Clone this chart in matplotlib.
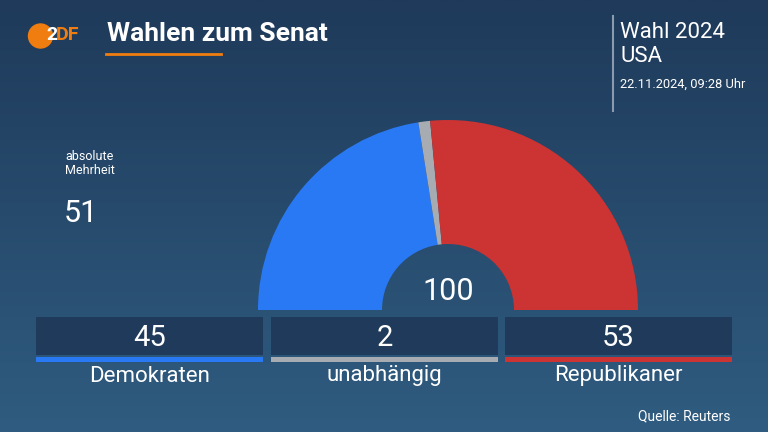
import matplotlib.pyplot as plt
import numpy as np
from matplotlib.patches import Circle, Rectangle

# Data
parties = ['Demokraten', 'unabhängig', 'Republikaner']
seats = [45, 2, 53]
colors = ['#2979f5', '#a7abb2', '#cc3333']
total_seats = 100
majority = 51

plt.rcParams['font.family'] = ['Roboto', 'DejaVu Sans']

fig = plt.figure(figsize=(7.68, 4.32), dpi=100)
ax = fig.add_axes([0, 0, 1, 1])

# background gradient (dark navy top -> lighter blue bottom)
grad = np.linspace(0, 1, 256).reshape(-1, 1)
top = np.array([31, 58, 90]) / 255
bottom = np.array([47, 92, 128]) / 255
img = top + (bottom - top) * grad[:, :, None]
ax.imshow(img, extent=[0, 768, 0, 432], origin='upper', aspect='auto', zorder=0)

# half donut: hidden lower half
cx, cy, r = 448, 122, 190
ax.pie(seats + [total_seats], colors=colors + ['none'], startangle=180,
       counterclock=False, center=(cx, cy), radius=r,
       wedgeprops=dict(width=r - 66, linewidth=0))
ax.set_xlim(0, 768)
ax.set_ylim(0, 432)
ax.set_aspect('auto')
ax.axis('off')

ax.text(cx, 432 - 292, str(total_seats), color='white', fontsize=22,
        ha='center', va='center')

# header
ax.add_patch(Circle((40.5, 432 - 36), 12, color='#f07d10', zorder=3))
ax.text(46, 432 - 35, '2', color='white', fontsize=14, fontweight='bold',
        ha='left', va='center', zorder=4)
ax.text(56, 432 - 35, 'DF', color='#f07d10', fontsize=14, fontweight='bold',
        ha='left', va='center', zorder=4)
ax.text(107, 432 - 34, 'Wahlen zum Senat', color='white', fontsize=19,
        fontweight='bold', ha='left', va='center')
ax.plot([106, 221], [432 - 54, 432 - 54], color='#f07d10', lw=2)

ax.plot([613, 613], [432 - 16, 432 - 111], color='#8a9bb0', lw=1.5)
ax.text(620, 432 - 33, 'Wahl 2024', color='white', fontsize=16,
        ha='left', va='center')
ax.text(620, 432 - 57, 'USA', color='white', fontsize=16,
        ha='left', va='center')
ax.text(620, 432 - 84, '22.11.2024, 09:28 Uhr', color='white', fontsize=9.3,
        ha='left', va='center')

ax.text(65, 432 - 157, 'absolute', color='white', fontsize=9,
        ha='left', va='center')
ax.text(65, 432 - 170, 'Mehrheit', color='white', fontsize=9,
        ha='left', va='center')
ax.text(64, 432 - 214, str(majority), color='white', fontsize=22,
        ha='left', va='center')

# seat boxes
box_left = [36, 271, 505]
box_w = 227
for x0, name, n, c in zip(box_left, parties, seats, colors):
    ax.add_patch(Rectangle((x0, 432 - 355), box_w, 38, color='#1f3a5a',
                           lw=0, zorder=2))
    ax.add_patch(Rectangle((x0, 432 - 362), box_w, 5, color=c,
                           lw=0, zorder=2))
    ax.text(x0 + box_w / 2, 432 - 338, str(n), color='white', fontsize=21,
            ha='center', va='center', zorder=3)
    ax.text(x0 + box_w / 2, 432 - 376, name, color='white', fontsize=16,
            ha='center', va='center', zorder=3)

ax.text(730, 432 - 416, 'Quelle: Reuters', color='white', fontsize=10,
        ha='right', va='center')

fig.savefig('out.png', dpi=100)
